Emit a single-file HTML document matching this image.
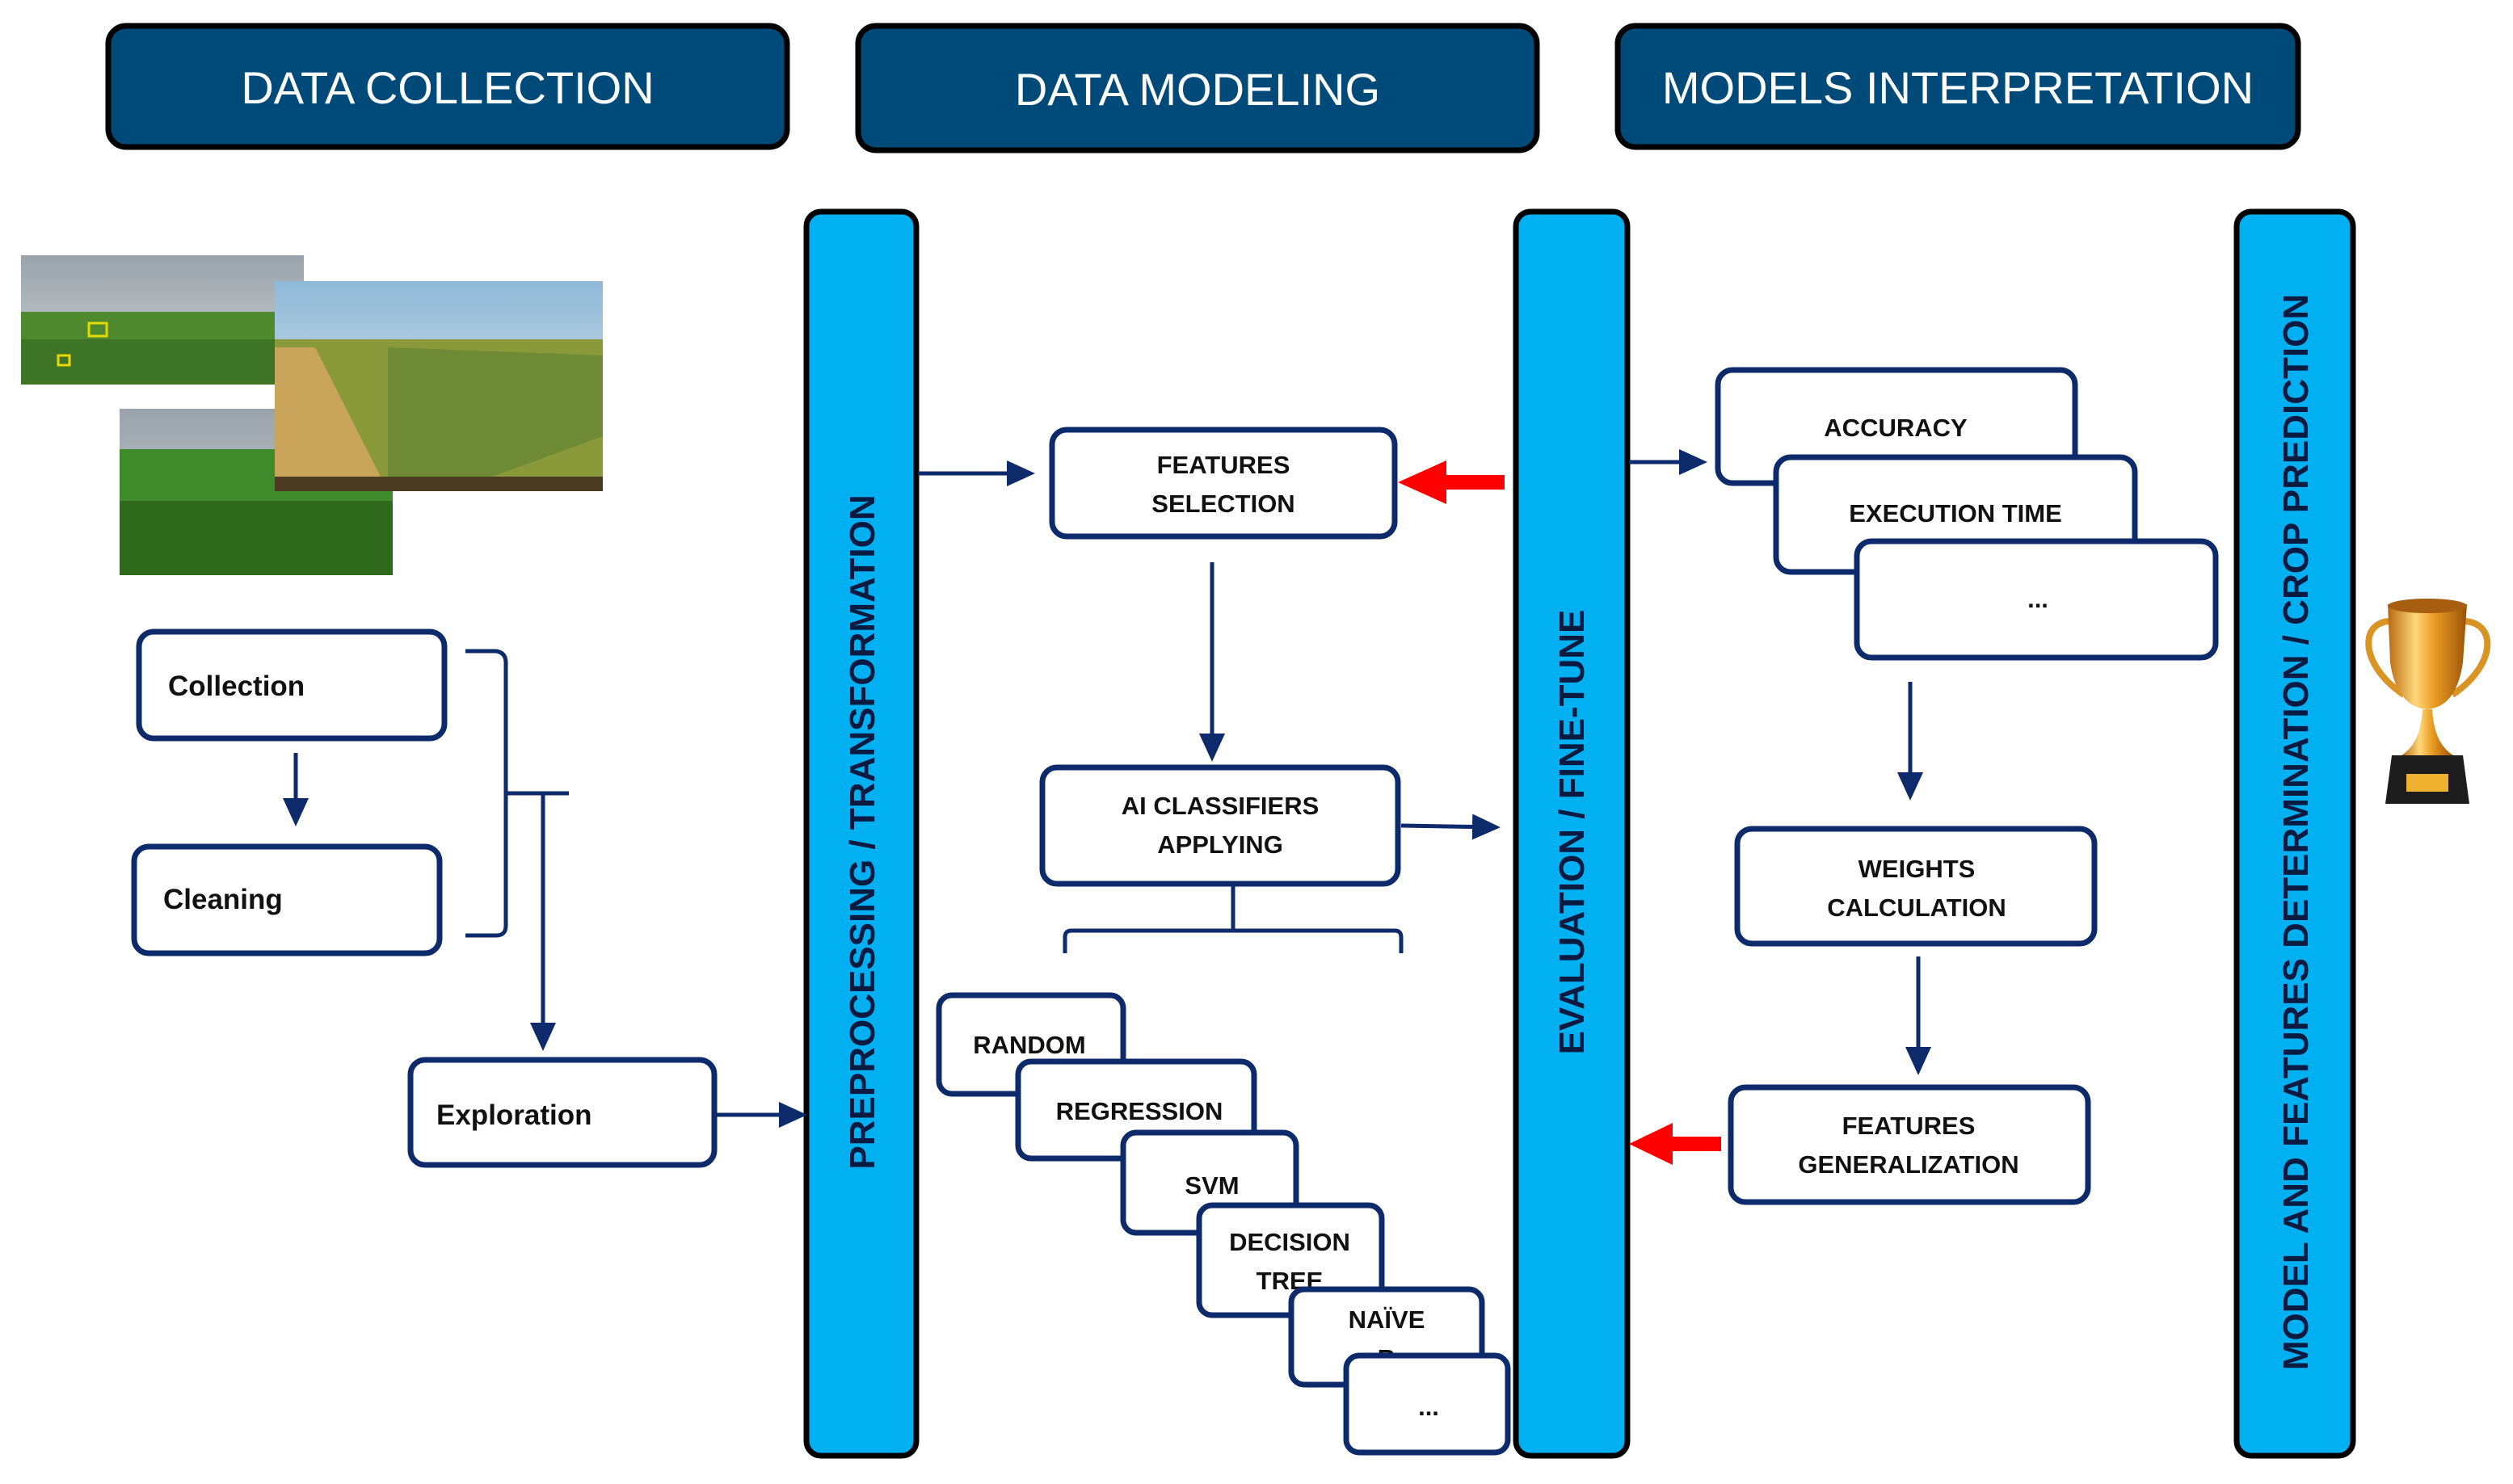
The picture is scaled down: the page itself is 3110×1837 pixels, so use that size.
<!DOCTYPE html>
<html><head><meta charset="utf-8"><style>
html,body{margin:0;padding:0;background:#fff;}
svg{display:block;}
text{font-family:"Liberation Sans Narrow","Liberation Sans",sans-serif;}
</style></head><body>
<svg width="3110" height="1837" viewBox="0 0 3110 1837" xmlns="http://www.w3.org/2000/svg">
<defs>
<marker id="ah" markerWidth="8" markerHeight="8" refX="6" refY="4" orient="auto" markerUnits="strokeWidth">
<path d="M0,0.8 L7,4 L0,7.2 z" fill="#0d2a6b"/></marker>
<linearGradient id="sky" x1="0" y1="0" x2="0" y2="1"><stop offset="0" stop-color="#8fb9d8"/><stop offset="1" stop-color="#e8eef0"/></linearGradient>
<linearGradient id="sky2" x1="0" y1="0" x2="0" y2="1"><stop offset="0" stop-color="#9aa3ab"/><stop offset="1" stop-color="#cfd4d6"/></linearGradient>
<linearGradient id="gold" x1="0" y1="0" x2="1" y2="0"><stop offset="0" stop-color="#b86a10"/><stop offset="0.35" stop-color="#ffd77a"/><stop offset="0.6" stop-color="#e89a20"/><stop offset="1" stop-color="#9a5208"/></linearGradient>
</defs>

<!-- headers -->
<g font-size="56" fill="#fff" text-anchor="middle">
<rect x="134" y="32" width="840" height="150" rx="22" fill="#004a7a" stroke="#000" stroke-width="7"/>
<text x="554" y="128">DATA COLLECTION</text>
<rect x="1062" y="32" width="840" height="154" rx="22" fill="#004a7a" stroke="#000" stroke-width="7"/>
<text x="1482" y="130">DATA MODELING</text>
<rect x="2002" y="32" width="842" height="150" rx="22" fill="#004a7a" stroke="#000" stroke-width="7"/>
<text x="2423" y="128">MODELS INTERPRETATION</text>
</g>

<!-- vertical bars -->
<g fill="#00b0f0" stroke="#000" stroke-width="7">
<rect x="998" y="262" width="136" height="1540" rx="18"/>
<rect x="1876" y="262" width="138" height="1540" rx="18"/>
<rect x="2768" y="262" width="144" height="1540" rx="18"/>
</g>
<g font-family="Liberation Sans" font-weight="bold" font-size="44" fill="#0a1a40" text-anchor="middle">
<text transform="translate(1082,1030) rotate(-90)" style="font-family:'Liberation Sans',sans-serif">PREPROCESSING / TRANSFORMATION</text>
<text transform="translate(1960,1030) rotate(-90)" style="font-family:'Liberation Sans',sans-serif">EVALUATION / FINE-TUNE</text>
<text transform="translate(2856,1030) rotate(-90)" style="font-family:'Liberation Sans',sans-serif">MODEL AND FEATURES DETERMINATION / CROP PREDICTION</text>
</g>

<!-- images -->
<g>
<rect x="26" y="316" width="350" height="160" fill="url(#sky2)"/>
<rect x="26" y="386" width="350" height="90" fill="#4f8a2e"/>
<rect x="26" y="420" width="350" height="56" fill="#3d7425"/>
<rect x="110" y="400" width="22" height="16" fill="none" stroke="#e6d800" stroke-width="3"/>
<rect x="72" y="440" width="14" height="12" fill="none" stroke="#e6d800" stroke-width="3"/>
<rect x="148" y="506" width="338" height="206" fill="url(#sky2)"/>
<rect x="148" y="556" width="338" height="156" fill="#3f8a2a"/>
<rect x="148" y="620" width="338" height="92" fill="#2f6a1c"/>
<rect x="340" y="348" width="406" height="260" fill="url(#sky)"/>
<rect x="340" y="420" width="406" height="188" fill="#8a9a3a"/>
<polygon points="340,430 390,430 480,608 340,608" fill="#c8a55a"/>
<polygon points="480,430 746,440 746,540 560,608 480,608" fill="#6f8a34"/>
<rect x="340" y="590" width="406" height="18" fill="#4a3a20"/>
</g>

<!-- left nodes -->
<g fill="#fff" stroke="#0d2a6b" stroke-width="7">
<rect x="172" y="782" width="378" height="132" rx="18"/>
<rect x="166" y="1048" width="378" height="132" rx="18"/>
<rect x="508" y="1312" width="376" height="130" rx="18"/>
</g>
<g font-size="35" font-weight="bold" fill="#111">
<text x="208" y="861">Collection</text>
<text x="202" y="1125">Cleaning</text>
<text x="540" y="1392">Exploration</text>
</g>
<g stroke="#0d2a6b" stroke-width="5" fill="none">
<line x1="366" y1="932" x2="366" y2="1018" marker-end="url(#ah)"/>
<path d="M576,806 L614,806 Q626,808 626,820 L626,1146 Q626,1158 614,1158 L576,1158"/>
<line x1="626" y1="982" x2="704" y2="982"/>
<line x1="672" y1="982" x2="672" y2="1296" marker-end="url(#ah)"/>
<line x1="886" y1="1380" x2="994" y2="1380" marker-end="url(#ah)"/>
<line x1="1136" y1="586" x2="1276" y2="586" marker-end="url(#ah)"/>
<line x1="1500" y1="696" x2="1500" y2="938" marker-end="url(#ah)"/>
<line x1="1734" y1="1022" x2="1852" y2="1024" marker-end="url(#ah)"/>
<path d="M1318,1180 L1318,1160 Q1318,1152 1326,1152 L1726,1152 Q1734,1152 1734,1160 L1734,1180"/>
<line x1="1526" y1="1096" x2="1526" y2="1152"/>
<line x1="2016" y1="572" x2="2108" y2="572" marker-end="url(#ah)"/>
<line x1="2364" y1="844" x2="2364" y2="986" marker-end="url(#ah)"/>
<line x1="2374" y1="1184" x2="2374" y2="1326" marker-end="url(#ah)"/>
</g>

<!-- red arrows -->
<g fill="#ff0000">
<rect x="1786" y="588" width="76" height="18"/>
<polygon points="1730,597 1790,570 1790,624"/>
<rect x="2062" y="1407" width="68" height="18"/>
<polygon points="2016,1416 2070,1390 2070,1442"/>
</g>

<!-- middle nodes -->
<g fill="#fff" stroke="#0d2a6b" stroke-width="7">
<rect x="1302" y="532" width="424" height="132" rx="18"/>
<rect x="1290" y="950" width="440" height="144" rx="18"/>
</g>
<g font-size="31" font-weight="bold" fill="#111" text-anchor="middle">
<text x="1514" y="586">FEATURES</text>
<text x="1514" y="634">SELECTION</text>
<text x="1510" y="1008">AI CLASSIFIERS</text>
<text x="1510" y="1056">APPLYING</text>
</g>

<!-- stacked classifiers -->
<g font-size="31" font-weight="bold" fill="#111" text-anchor="middle" stroke-width="7">
<rect x="1162" y="1232" width="228" height="122" rx="16" fill="#fff" stroke="#0d2a6b"/>
<text x="1274" y="1304" stroke="none">RANDOM</text>
<rect x="1260" y="1314" width="292" height="120" rx="16" fill="#fff" stroke="#0d2a6b"/>
<text x="1410" y="1386" stroke="none">REGRESSION</text>
<rect x="1390" y="1402" width="214" height="124" rx="16" fill="#fff" stroke="#0d2a6b"/>
<text x="1500" y="1478" stroke="none">SVM</text>
<rect x="1484" y="1492" width="226" height="136" rx="16" fill="#fff" stroke="#0d2a6b"/>
<text x="1596" y="1548" stroke="none">DECISION</text>
<text x="1596" y="1596" stroke="none">TREE</text>
<rect x="1598" y="1596" width="236" height="118" rx="16" fill="#fff" stroke="#0d2a6b"/>
<text x="1716" y="1644" stroke="none">NAÏVE</text>
<text x="1716" y="1692" stroke="none">B</text>
<rect x="1666" y="1678" width="200" height="120" rx="16" fill="#fff" stroke="#0d2a6b"/>
<text x="1768" y="1752" stroke="none">...</text>
</g>

<!-- right nodes -->
<g font-size="31" font-weight="bold" fill="#111" text-anchor="middle" stroke-width="7">
<rect x="2126" y="458" width="442" height="140" rx="18" fill="#fff" stroke="#0d2a6b"/>
<text x="2346" y="540" stroke="none">ACCURACY</text>
<rect x="2198" y="566" width="444" height="142" rx="18" fill="#fff" stroke="#0d2a6b"/>
<text x="2420" y="646" stroke="none">EXECUTION TIME</text>
<rect x="2298" y="670" width="444" height="144" rx="18" fill="#fff" stroke="#0d2a6b"/>
<text x="2522" y="752" stroke="none">...</text>
<rect x="2150" y="1026" width="442" height="142" rx="18" fill="#fff" stroke="#0d2a6b"/>
<text x="2372" y="1086" stroke="none">WEIGHTS</text>
<text x="2372" y="1134" stroke="none">CALCULATION</text>
<rect x="2142" y="1346" width="442" height="142" rx="18" fill="#fff" stroke="#0d2a6b"/>
<text x="2362" y="1404" stroke="none">FEATURES</text>
<text x="2362" y="1452" stroke="none">GENERALIZATION</text>
</g>

<!-- trophy -->
<g>
<path d="M2970,770 C2920,760 2915,820 2975,860" fill="none" stroke="#d99424" stroke-width="8"/>
<path d="M3036,770 C3090,760 3095,820 3035,860" fill="none" stroke="#d99424" stroke-width="8"/>
<path d="M2955,748 L3053,748 L3048,820 Q3040,875 3004,878 Q2966,875 2958,820 Z" fill="url(#gold)"/>
<ellipse cx="3004" cy="750" rx="49" ry="9" fill="#a85e10"/>
<path d="M2998,878 L3010,878 Q3012,920 3036,935 L2972,935 Q2996,920 2998,878 Z" fill="url(#gold)"/>
<path d="M2960,935 L3048,935 L3056,995 L2952,995 Z" fill="#1c1c1c"/>
<rect x="2978" y="958" width="52" height="22" fill="#f0b030"/>
</g>
</svg>
</body></html>
